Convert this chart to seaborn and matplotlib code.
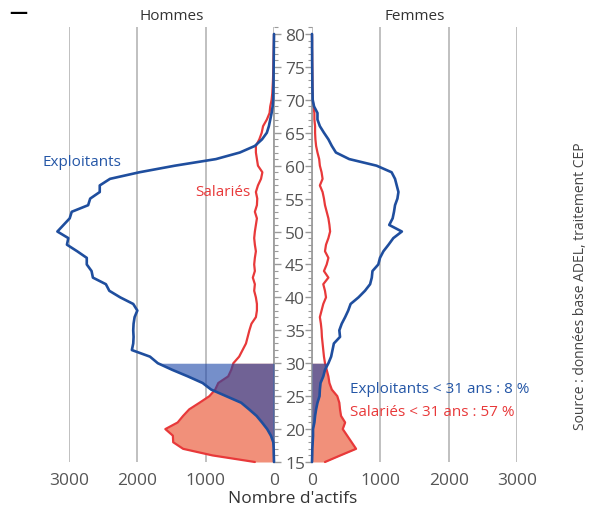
"""Pyramide des âges des actifs agricoles : exploitants vs salariés."""
import matplotlib

matplotlib.use("Agg")
import matplotlib.pyplot as plt
from matplotlib.ticker import MultipleLocator
import numpy as np
import pandas as pd
import seaborn as sns

# --------------------------------------------------------------------------- #
# Données, âges 15 à 80
# --------------------------------------------------------------------------- #
AGES = list(range(15, 81))

exploitants_hommes = [
    0, 3, 5, 10, 45, 100, 175, 255, 365, 480, 700, 920, 1045, 1260, 1490, 1700,
    1815, 2080, 2060, 2055, 2060, 2055, 2040, 2000, 2060, 2250, 2410, 2460, 2650,
    2670, 2740, 2740, 2880, 3030, 3010, 3170, 3080, 2990, 2960, 2720, 2690, 2550,
    2550, 2400, 1970, 1450, 850, 500, 280, 175, 105, 75, 55, 35, 20, 12,
    10, 8, 7, 6, 5, 4, 3, 2, 1, 0,
]
salaries_hommes = [
    280, 900, 1330, 1475, 1480, 1590, 1410, 1330, 1240, 1090, 945, 860, 815, 670,
    625, 595, 510, 460, 410, 385, 360, 330, 265, 250, 250, 265, 290, 280, 310,
    280, 290, 280, 265, 280, 290, 280, 265, 250, 280, 250, 245, 265, 235, 190,
    170, 235, 250, 265, 265, 215, 180, 160, 105, 65, 55, 35,
    25, 20, 15, 12, 10, 8, 6, 4, 2, 0,
]
exploitants_femmes = [
    0, 3, 5, 10, 15, 15, 35, 45, 60, 80, 110, 115, 125, 165, 190, 240,
    280, 300, 320, 410, 400, 435, 485, 530, 565, 680, 775, 850, 875, 885, 970,
    995, 1045, 1120, 1190, 1315, 1130, 1180, 1200, 1215, 1250, 1265, 1240, 1215,
    1165, 945, 545, 350, 290, 240, 175, 115, 80, 80, 30, 10,
    8, 6, 5, 4, 3, 2, 2, 1, 1, 0,
]
salaries_femmes = [
    190, 415, 645, 580, 515, 450, 485, 425, 410, 400, 370, 290, 255, 240, 215,
    190, 175, 165, 155, 145, 140, 130, 115, 140, 165, 205, 190, 165, 240, 175,
    215, 240, 190, 205, 240, 265, 255, 240, 215, 190, 175, 155, 115, 155, 140,
    115, 105, 80, 60, 50, 45, 45, 35, 35, 20, 10,
    8, 7, 6, 5, 4, 3, 2, 1, 1, 0,
]

AGE_JEUNES = 30  # zone remplie : moins de 31 ans
TXT_EXPL_FEMMES = "Exploitants < 31 ans : 8 %"
TXT_SAL_FEMMES = "Salariés < 31 ans : 57 %"

BLEU = "#1f4e9e"
ROUGE = "#e8393a"
GRIS = "#9a9a9a"

sns.set_theme(style="white")
plt.rcParams["font.family"] = ["Open Sans", "DejaVu Sans"]

df = pd.DataFrame({
    "age": AGES,
    "expl_h": exploitants_hommes,
    "sal_h": salaries_hommes,
    "expl_f": exploitants_femmes,
    "sal_f": salaries_femmes,
})
jeunes = df[df["age"] <= AGE_JEUNES]

W, H = 590, 510
fig = plt.figure(figsize=(W / 100, H / 100), dpi=100)
bottom, top = 463, 28.4
ax_h = fig.add_axes([69 / W, 1 - bottom / H, 205 / W, (bottom - top) / H])
ax_f = fig.add_axes([312 / W, 1 - bottom / H, 205 / W, (bottom - top) / H])


def panneau(ax, col_expl, col_sal):
    # remplissage des moins de 31 ans : salariés dessous, exploitants dessus
    ax.fill_betweenx(jeunes["age"], 0, jeunes[col_sal], color="#f1907a", lw=0, zorder=1)
    sns.lineplot(data=df, x=col_sal, y="age", orient="y", estimator=None,
                 color=ROUGE, lw=1.6, ax=ax, zorder=2)
    ax.fill_betweenx(jeunes["age"], 0, jeunes[col_expl], color="#1a44a8",
                     alpha=0.6, lw=0, zorder=3)
    sns.lineplot(data=df, x=col_expl, y="age", orient="y", estimator=None,
                 color=BLEU, lw=1.9, ax=ax, zorder=4)
    for line in ax.lines:
        line.set_clip_on(False)

    ax.set_xlim(0, 3000)
    ax.set_ylim(15, 81)
    ax.set_xticks([0, 1000, 2000, 3000])
    ax.set_xticklabels(["0", "1000", "2000", "3000"])
    ax.grid(axis="x", color="#b5b5b5", lw=1.2)
    ax.grid(axis="y", visible=False)
    ax.set_axisbelow(True)
    ax.set_xlabel("")
    ax.set_ylabel("")
    ax.tick_params(axis="x", length=0, pad=7, labelsize=12.5, labelcolor="#555555")
    ax.yaxis.set_major_locator(MultipleLocator(5))
    ax.yaxis.set_minor_locator(MultipleLocator(1))
    for s in ax.spines.values():
        s.set_visible(False)


panneau(ax_h, "expl_h", "sal_h")
panneau(ax_f, "expl_f", "sal_f")
ax_h.invert_xaxis()

# axe des âges entre les deux panneaux
ax_h.spines["right"].set_visible(True)
ax_h.spines["right"].set_bounds(15, 80)
ax_h.spines["right"].set_color(GRIS)
ax_h.yaxis.tick_right()
ax_h.set_yticks(range(15, 81, 5))
ax_h.tick_params(axis="y", which="major", direction="out", length=5, width=1,
                 color=GRIS, pad=3, labelsize=12.5, labelcolor="#555555")
ax_h.tick_params(axis="y", which="minor", direction="out", length=3, width=0.8, color=GRIS)

ax_f.spines["left"].set_visible(True)
ax_f.spines["left"].set_bounds(15, 80)
ax_f.spines["left"].set_color(GRIS)
ax_f.yaxis.tick_left()
ax_f.set_yticks(range(15, 81, 5))
ax_f.tick_params(axis="y", which="major", direction="out", length=5, width=1,
                 color=GRIS, labelleft=False)
ax_f.tick_params(axis="y", which="minor", direction="out", length=3, width=0.8, color=GRIS)

# titres et annotations
ax_h.set_title("Hommes", fontsize=11, color="#333333", pad=6)
ax_f.set_title("Femmes", fontsize=11, color="#333333", pad=6)
fig.text(293 / W, 1 - 499 / H, "Nombre d'actifs", ha="center", va="center",
         fontsize=12.5, color="#333333")
fig.text(18 / W, 1 - 13 / H, "—", ha="center", va="center", fontsize=13,
         fontweight="bold", color="black")
fig.text(42 / W, 1 - 163 / H, "Exploitants", ha="left", va="center",
         fontsize=11, color="#2456a6")
fig.text(195 / W, 1 - 193 / H, "Salariés", ha="left", va="center",
         fontsize=11, color=ROUGE)
fig.text(350 / W, 1 - 390 / H, TXT_EXPL_FEMMES, ha="left", va="center",
         fontsize=11, color="#2456a6")
fig.text(350 / W, 1 - 413 / H, TXT_SAL_FEMMES, ha="left", va="center",
         fontsize=11, color=ROUGE)
fig.text(580 / W, 1 - 286 / H, "Source : données base ADEL, traitement CEP",
         rotation=90, ha="center", va="center", fontsize=10, color="#444444")

fig.savefig("out.png", dpi=100)
